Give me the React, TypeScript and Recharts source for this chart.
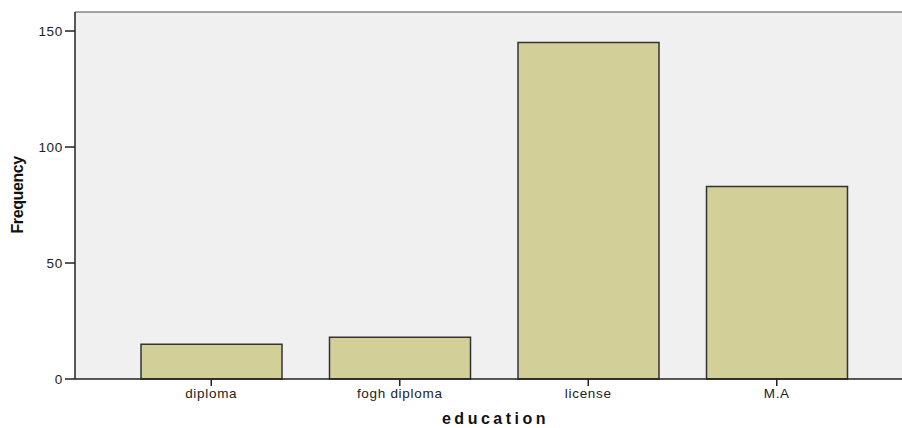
import { BarChart, Bar, XAxis, YAxis, CartesianGrid, ReferenceLine } from "recharts";

const categories = ["diploma", "fogh diploma", "license", "M.A"];
const frequencies = [15, 18, 145, 83];
const yTicks = [0, 50, 100, 150];
const Y_MAX = 158.2;

const data = categories.map((c, i) => ({ name: c, value: frequencies[i] }));

const tickFont = {
  fill: "#222",
  fontSize: 13.5,
  letterSpacing: 0.7,
  fontFamily: "Liberation Sans, Arial, sans-serif",
};

export default function App() {
  return (
    <div
      style={{
        position: "absolute",
        left: 0,
        top: 0,
        width: 902,
        height: 428,
        overflow: "hidden",
        background: "#fff",
      }}
    >
      <BarChart
        width={902}
        height={428}
        data={data}
        margin={{ top: 12, right: 0, bottom: 0, left: 0 }}
      >
        <CartesianGrid fill="#f0f0f0" horizontal={false} vertical={false} />
        <ReferenceLine y={Y_MAX} stroke="#888" strokeWidth={1.5} />
        <XAxis
          dataKey="name"
          height={49}
          padding={{ left: 42, right: 31 }}
          tick={tickFont}
          tickSize={7}
          tickMargin={2}
          axisLine={{ stroke: "#222", strokeWidth: 1.5 }}
          tickLine={{ stroke: "#222", strokeWidth: 1.5 }}
          label={{
            value: "education",
            position: "insideBottom",
            offset: 4,
            dx: 7,
            style: {
              fill: "#111",
              fontSize: 16,
              fontWeight: 700,
              letterSpacing: 3.5,
              fontFamily: "Liberation Sans, Arial, sans-serif",
            },
          }}
        />
        <YAxis
          width={75}
          domain={[0, Y_MAX]}
          ticks={yTicks}
          tick={tickFont}
          tickSize={10}
          tickMargin={2}
          axisLine={{ stroke: "#222", strokeWidth: 1.5 }}
          tickLine={{ stroke: "#222", strokeWidth: 1.5 }}
          label={{
            value: "Frequency",
            angle: -90,
            position: "insideLeft",
            offset: 17,
            dy: 38,
            style: {
              fill: "#111",
              fontSize: 16,
              fontWeight: 700,
              letterSpacing: -0.4,
              fontFamily: "Liberation Sans Narrow, Arial Narrow, sans-serif",
            },
          }}
        />
        <Bar
          dataKey="value"
          barSize={141}
          fill="#d3cf98"
          stroke="#333"
          strokeWidth={1.5}
          isAnimationActive={false}
        />
      </BarChart>
    </div>
  );
}
